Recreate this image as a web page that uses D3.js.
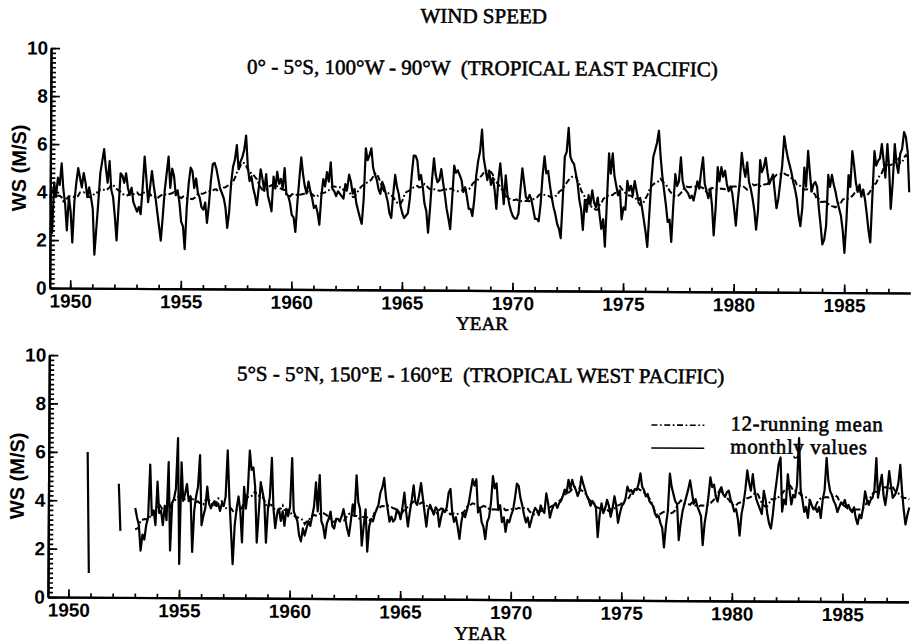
<!DOCTYPE html>
<html>
<head>
<meta charset="utf-8">
<script src="https://cdn.jsdelivr.net/npm/d3@7"></script>
<style>
  body { margin: 0; background: #fff; }
  svg { display: block; }
  .serif { font-family: "Liberation Serif", "Times New Roman", serif; fill: #000; stroke: #000; stroke-width: 0.55px; white-space: pre; }
  .sans { font-family: "Liberation Sans", Arial, sans-serif; font-weight: bold; fill: #000; }
</style>
</head>
<body>
<svg id="chart" width="913" height="644"></svg>
<script>
// Monthly mean wind speed (m/s), 0°-5°S, 100°W-90°W, from February 1949
const eastStart = 1949 + 1 / 12;
const eastMonthly = [
  3.9, 2.3, 4.4, 3.8, 4.6, 4.3, 5.2, 4.1, 3.5, 2.4, 3.8, 3.2,
  1.9, 3.6, 4.4, 5.0, 4.6, 4.2, 4.8, 4.4, 3.8, 4.2, 3.8, 3.3,
  1.4, 2.5, 3.6, 4.8, 5.3, 5.8, 5.0, 4.4, 5.3, 4.1, 3.8, 3.0,
  2.0, 3.4, 4.8, 4.7, 4.4, 4.8, 4.2, 3.9, 4.2, 3.6, 3.4, 3.2,
  3.4, 3.1, 4.2, 5.5, 4.6, 3.6, 4.2, 4.9, 4.3, 3.8, 3.2, 2.6,
  2.0, 3.0, 4.1, 4.8, 5.5, 4.2, 5.0, 4.7, 3.9, 4.1, 3.6, 2.8,
  2.6, 1.65, 3.4, 4.4, 5.05, 4.9, 4.2, 4.6, 4.0, 3.8, 3.4, 3.3,
  3.6, 2.75, 3.5, 4.5, 5.2, 5.25, 5.0, 4.6, 4.2, 4.0, 3.8, 3.4,
  2.55, 3.2, 4.4, 5.1, 5.4, 6.0, 5.0, 5.3, 5.5, 5.8, 6.4, 5.1,
  4.5, 4.7, 4.2, 3.9, 3.5, 4.2, 5.0, 4.6, 4.1, 4.8, 3.9, 3.6,
  3.25, 4.7, 4.2, 4.9, 4.4, 4.6, 4.2, 5.05, 4.0, 3.9, 3.6, 3.1,
  3.0, 2.4, 3.6, 4.6, 5.5, 4.8, 4.3, 4.0, 4.5, 4.1, 3.8, 3.4,
  3.5, 3.2, 2.7, 3.9, 4.6, 4.3, 4.9, 4.5, 5.3, 4.2, 4.1, 3.9,
  4.1, 4.0, 3.9, 3.8, 4.4, 4.2, 4.8, 4.5, 4.0, 4.2, 3.6, 3.3,
  3.0, 2.75, 3.8, 5.9, 5.4, 5.6, 5.9, 5.1, 4.8, 4.6, 4.2, 4.0,
  4.5, 4.3, 4.0, 3.7, 3.2, 3.0, 4.0, 4.8, 4.3, 4.0, 3.5, 3.2,
  3.0, 3.1, 3.2, 3.8, 4.8, 5.6, 5.6, 5.4, 4.6, 4.8, 4.3, 3.6,
  3.3, 2.4, 3.4, 4.6, 5.5, 4.8, 4.5, 4.6, 5.05, 4.5, 4.0, 3.4,
  3.0, 2.55, 3.8, 5.2, 4.9, 5.0, 4.8, 4.6, 4.1, 4.3, 3.9, 3.4,
  3.4, 3.1, 3.8, 4.8, 5.4, 5.8, 6.7, 5.5, 5.06, 4.6, 5.0, 4.4,
  4.7, 4.2, 3.4, 4.6, 5.3, 4.5, 3.6, 4.8, 4.0, 3.6, 3.3, 3.1,
  3.0, 3.0, 3.2, 4.2, 5.1, 4.5, 3.9, 3.8, 4.0, 3.8, 3.4, 3.0,
  3.0, 2.9, 3.6, 4.8, 5.6, 4.9, 5.0, 4.4, 3.9, 3.5, 3.2, 2.8,
  2.6, 2.2, 3.8, 5.6, 5.8, 6.8, 5.6, 5.4, 5.3, 4.9, 4.5, 3.8,
  3.4, 2.55, 3.8, 3.3, 4.0, 3.6, 4.2, 3.7, 3.5, 3.9, 3.2, 2.6,
  3.0, 1.86, 3.8, 5.75, 4.9, 5.75, 4.8, 4.4, 4.0, 4.2, 3.0, 3.5,
  3.4, 4.6, 4.2, 4.4, 4.0, 4.6, 4.2, 3.8, 3.9, 3.5, 3.0, 2.5,
  1.86, 3.2, 4.6, 5.6, 5.9, 6.2, 6.7, 5.6, 4.8, 4.2, 3.6, 2.9,
  3.0, 2.07, 3.6, 4.9, 4.4, 4.6, 5.6, 4.6, 4.3, 4.2, 4.1, 3.9,
  4.0, 3.8, 4.2, 4.6, 4.3, 5.0, 5.6, 4.5, 4.2, 3.9, 4.3, 3.6,
  2.35, 3.5, 5.2, 4.6, 5.2, 4.8, 5.05, 4.5, 4.2, 4.4, 4.1, 3.5,
  2.76, 3.8, 4.6, 5.8, 5.2, 4.8, 5.4, 4.6, 4.3, 3.9, 3.4, 2.6,
  3.4, 5.5, 5.0, 5.2, 5.6, 5.0, 4.5, 4.7, 4.9, 4.2, 3.5, 3.9,
  4.6, 5.3, 6.5, 6.0, 5.6, 5.3, 5.0, 4.6, 4.3, 3.9, 3.2, 2.76,
  3.5, 5.2, 4.4, 5.9, 5.0, 4.2, 4.5, 4.6, 4.4, 3.5, 2.8, 2.0,
  2.2, 2.8, 4.9, 4.4, 4.9, 4.5, 4.2, 3.8, 3.5, 3.2, 2.6, 1.65,
  3.0, 4.9, 4.4, 5.9, 5.3, 4.6, 4.2, 4.5, 4.0, 4.3, 3.9, 3.3,
  2.6, 2.1, 4.0, 5.9, 5.3, 5.5, 5.6, 6.2, 5.5, 4.8, 6.2, 5.2,
  3.5, 4.6, 6.2, 5.4, 5.0, 5.8, 6.0, 6.7, 6.5, 5.9, 4.2
];

// Monthly mean wind speed (m/s), 5°S-5°N, 150°E-160°E, from January 1950 (null = no data)
const westStart = 1950;
const westMonthly = [
  null, null, null, null, null, null, null, null, null, null, 6.0, 1.0,
  null, null, null, null, null, null, null, null, null, null, null, null,
  null, null, null, 4.7, 2.75, null, null, null, null, null, null, null,
  3.7, 3.3,
  3.0, 1.94, 2.6, 2.4, 3.0, 3.3, 5.5, 3.4, 3.6, 3.0, 4.8, 3.5,
  3.6, 3.0, 3.8, 3.2, 5.6, 1.95, 3.9, 4.1, 4.5, 6.6, 1.4, 5.6,
  4.0, 4.3, 4.7, 4.0, 4.2, 1.9, 3.6, 4.2, 4.6, 5.9, 3.0, 3.4,
  3.7, 4.6, 3.9, 3.7, 3.9, 4.0, 3.8, 3.9, 3.6, 3.9, 3.8, 4.2,
  6.1, 4.2, 2.8, 1.4, 3.0, 3.7, 4.2, 3.6, 2.3, 4.6, 3.7, 4.4,
  6.1, 5.3, 5.4, 4.6, 2.3, 3.5, 4.8, 4.4, 4.0, 2.3, 3.7, 4.2,
  5.8, 3.7, 2.9, 3.5, 3.7, 3.2, 3.6, 3.0, 3.7, 3.4, 3.8, 5.8,
  3.6, 3.4, 3.2, 2.6, 2.36, 2.9, 2.6, 2.9, 3.2, 3.0, 3.4, 3.8,
  4.8, 3.6, 5.1, 3.2, 3.0, 2.5, 3.1, 3.3, 3.6, 3.0, 2.9, 3.3,
  3.3, 3.2, 3.4, 3.7, 3.3, 2.9, 2.6, 3.2, 3.9, 3.5, 5.1, 4.0,
  3.7, 2.2, 3.0, 3.7, 1.95, 3.0, 3.3, 3.2, 3.5, 3.7, 3.9, 4.4,
  4.6, 5.0, 4.2, 3.7, 3.2, 3.4, 3.2, 3.3, 3.7, 3.6, 3.3, 3.8,
  4.4, 3.6, 3.0, 3.6, 4.1, 4.7, 4.0, 3.9, 4.3, 4.8, 4.2, 3.6,
  3.0, 3.7, 3.9, 3.7, 3.5, 3.8, 3.7, 3.0, 3.4, 3.7, 3.6, 3.8,
  4.4, 4.56, 3.6, 3.2, 3.4, 3.0, 2.5, 3.2, 3.6, 3.4, 3.7, 4.0,
  4.5, 4.97, 4.7, 4.97, 3.6, 3.8, 3.2, 3.0, 2.5, 3.2, 3.4, 4.0,
  5.1, 4.6, 4.8, 3.7, 3.9, 3.2, 3.4, 2.8, 3.3, 3.2, 3.5, 3.7,
  4.2, 4.8, 4.7, 4.2, 3.9, 3.5, 3.2, 3.4, 3.0, 3.3, 3.6, 3.8,
  3.7, 3.5, 3.9, 3.7, 3.6, 4.4, 4.0, 3.4, 3.7, 3.9, 4.0, 3.8,
  4.0, 4.1, 4.3, 4.56, 4.4, 4.97, 4.6, 4.97, 4.7, 4.56, 4.3, 4.5,
  5.1, 4.8, 4.56, 4.3, 4.15, 3.9, 4.1, 4.0, 3.8, 2.6, 3.5, 4.0,
  3.6, 3.8, 4.15, 3.9, 3.45, 3.8, 4.3, 3.9, 3.2, 3.6, 3.9, 4.0,
  4.2, 4.7, 4.5, 4.56, 4.4, 4.6, 4.56, 4.8, 5.25, 4.7, 4.56, 4.3,
  4.4, 4.1, 4.0, 3.9, 3.6, 3.45, 3.5, 3.2, 3.0, 2.2, 3.1, 3.7,
  5.25, 4.7, 4.4, 4.1, 4.0, 2.5, 3.2, 3.7, 4.0, 4.3, 4.6, 4.97,
  4.5, 4.0, 4.2, 3.9, 3.7, 3.5, 2.3, 3.2, 3.7, 4.3, 5.1, 4.7,
  4.8, 4.3, 4.1, 4.56, 4.7, 4.4, 4.3, 4.5, 4.56, 4.2, 4.0, 3.7,
  3.8, 3.4, 2.7, 3.6, 4.0, 4.6, 5.4, 4.9, 4.56, 5.25, 4.6, 4.2,
  4.0, 3.8, 3.6, 4.56, 4.2, 3.6, 3.2, 3.0, 3.6, 4.4, 5.0, 5.66,
  5.94, 3.7, 4.2, 4.0, 5.25, 4.6, 4.0, 4.4, 4.3, 4.8, 6.75, 4.6,
  4.2, 3.7, 3.9, 3.45, 4.2, 4.0, 3.8, 3.9, 3.7, 3.9, 3.45, 4.2,
  4.6, 5.94, 5.0, 4.56, 4.4, 4.15, 4.0, 3.7, 3.9, 4.1, 4.0, 4.2,
  3.9, 4.0, 3.8, 3.7, 3.9, 3.45, 3.2, 3.6, 3.45, 3.9, 4.56, 4.2,
  4.0, 4.2, 4.3, 4.6, 5.94, 4.3, 4.8, 5.25, 4.4, 4.0, 4.6, 5.4,
  4.8, 4.3, 4.4, 4.56, 4.9, 5.66, 4.6, 3.8, 3.2, 3.6, 3.9
];

const yearMajorTicks = [1950, 1955, 1960, 1965, 1970, 1975, 1980, 1985];
const valueMajorTicks = [0, 2, 4, 6, 8, 10];
const chartTitle = "WIND SPEED";
const panelTitles = [
  "0\u00B0 - 5\u00B0S, 100\u00B0W - 90\u00B0W  (TROPICAL EAST PACIFIC)",
  "5\u00B0S - 5\u00B0N, 150\u00B0E - 160\u00B0E  (TROPICAL WEST PACIFIC)"
];
const xTitle = "YEAR";
const yTitle = "WS (M/S)";
const legendLabels = ["12-running mean", "monthly values"];

// ---------------------------------------------------------------------------
const svg = d3.select("#chart");
svg.append("rect").attr("width", 913).attr("height", 644).attr("fill", "#fff");

// the printed page sits very slightly askew
const root = svg.append("g").attr("transform", "rotate(0.33 480 322)");

const x = d3.scaleLinear().domain([1949.073, 1987.985]).range([49.5, 910]);
const yearMinor = d3.range(1950, 1988, 1);
const valueMinor = d3.range(0, 10.001, 0.2).map(v => +v.toFixed(1));

const dashMean = "6,2.5,1.8,2.5";

// 12-month centred running mean, using the values present in each window
function runningMean(vals) {
  return vals.map((v, i) => {
    if (v == null) return null;
    const win = vals.slice(Math.max(0, i - 6), Math.min(vals.length, i + 6)).filter(d => d != null);
    return win.length >= 6 ? d3.mean(win) : null;
  });
}

const panels = [
  { values: eastMonthly, start: eastStart, yBase: 290.5, yTop: 50.5, title: panelTitles[0], titleY: 75, yearY: 330, legend: false },
  { values: westMonthly, start: westStart, yBase: 599.5, yTop: 357.5, title: panelTitles[1], titleY: 382, yearY: 640, legend: true }
];

root.append("text").attr("class", "serif")
  .attr("x", 482).attr("y", 23).attr("text-anchor", "middle")
  .style("font-size", "21px").text(chartTitle);

panels.forEach(p => {
  const y = d3.scaleLinear().domain([0, 10]).range([p.yBase, p.yTop]);
  const g = root.append("g");

  const monthly = p.values.map((v, i) => ({ t: p.start + i / 12, v }));
  const means = runningMean(p.values).map((v, i) => ({ t: p.start + i / 12, v }));

  const line = d3.line()
    .defined(d => d.v != null)
    .x(d => x(d.t)).y(d => y(d.v));

  // running mean (dash-dot) beneath the monthly trace
  g.append("path").datum(means)
    .attr("d", line).attr("fill", "none")
    .attr("stroke", "#000").attr("stroke-width", 2)
    .attr("stroke-dasharray", dashMean);

  g.append("path").datum(monthly)
    .attr("d", line).attr("fill", "none")
    .attr("stroke", "#000").attr("stroke-width", 2.2)
    .attr("stroke-linejoin", "round");

  // y axis: minor ticks every 0.2, labelled ticks every 2, all pointing inward
  const yMinorAxis = d3.axisLeft(y).tickValues(valueMinor).tickSizeInner(-5).tickSizeOuter(0).tickFormat("");
  const yMajorAxis = d3.axisLeft(y).tickValues(valueMajorTicks).tickSizeInner(-9).tickSizeOuter(0).tickPadding(3).tickFormat(d3.format("d"));
  const ga = g.append("g").attr("transform", `translate(${x.range()[0]},0)`);
  ga.append("g").call(yMinorAxis);
  ga.append("g").call(yMajorAxis);

  // x axis: yearly minor ticks, five-year labelled ticks
  const xMinorAxis = d3.axisBottom(x).tickValues(yearMinor).tickSizeInner(-4).tickSizeOuter(0).tickFormat("");
  const xMajorAxis = d3.axisBottom(x).tickValues(yearMajorTicks).tickSizeInner(-8).tickSizeOuter(0).tickPadding(6).tickFormat(d3.format("d"));
  const gx = g.append("g").attr("transform", `translate(0,${p.yBase})`);
  gx.append("g").call(xMinorAxis);
  gx.append("g").call(xMajorAxis);

  g.selectAll(".domain").attr("stroke", "#000").attr("stroke-width", 2.2);
  g.selectAll(".tick line").attr("stroke", "#000").attr("stroke-width", 1.7);
  g.selectAll(".tick text").attr("class", "sans").attr("fill", "#000").style("font-size", "19px");

  g.append("text").attr("class", "sans")
    .attr("transform", `translate(18,${(p.yBase + p.yTop) / 2}) rotate(-90)`)
    .attr("text-anchor", "middle").attr("dy", "0.35em")
    .style("font-size", "20px").text(yTitle);

  g.append("text").attr("class", "serif")
    .attr("x", 481).attr("y", p.titleY).attr("text-anchor", "middle")
    .style("font-size", "21px").text(p.title);

  g.append("text").attr("class", "serif")
    .attr("x", 482).attr("y", p.yearY).attr("text-anchor", "middle")
    .style("font-size", "19px").text(xTitle);

  if (p.legend) {
    const lg = g.append("g");
    const rows = [
      { label: legendLabels[0], dash: dashMean, y: 424 },
      { label: legendLabels[1], dash: null, y: 447 }
    ];
    rows.forEach(r => {
      lg.append("line").attr("x1", 652).attr("x2", 705).attr("y1", r.y).attr("y2", r.y)
        .attr("stroke", "#000").attr("stroke-width", 1.6)
        .attr("stroke-dasharray", r.dash);
      lg.append("text").attr("class", "serif")
        .attr("x", 731).attr("y", r.y + 5)
        .style("font-size", "21px").style("letter-spacing", "0.6px").text(r.label);
    });
  }
});
</script>
</body>
</html>
